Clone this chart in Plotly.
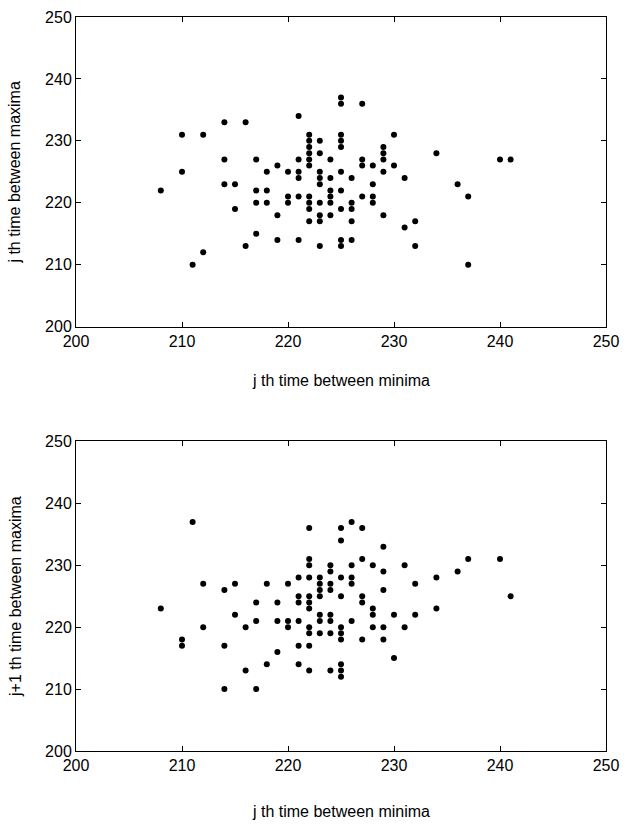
import plotly.graph_objects as go

# Top panel: j th time between minima (x) vs j th time between maxima (y)
top_x = [208,
         210, 210,
         211,
         212, 212,
         214, 214, 214,
         215, 215,
         216, 216,
         217, 217, 217, 217,
         218, 218, 218,
         219, 219, 219,
         220, 220, 220,
         221, 221, 221, 221, 221, 221,
         222, 222, 222, 222, 222, 222, 222, 222, 222, 222,
         223, 223, 223, 223, 223, 223, 223, 223, 223,
         224, 224, 224, 224, 224, 224,
         225, 225, 225, 225, 225, 225, 225, 225, 225, 225,
         226, 226, 226, 226, 226,
         227, 227, 227, 227,
         228, 228, 228, 228,
         229, 229, 229, 229, 229,
         230, 230,
         231, 231,
         232, 232,
         234,
         236,
         237, 237,
         240,
         241]
top_y = [222,
         231, 225,
         210,
         231, 212,
         233, 227, 223,
         223, 219,
         233, 213,
         227, 222, 220, 215,
         225, 222, 220,
         226, 218, 214,
         225, 221, 220,
         234, 227, 225, 224, 221, 214,
         231, 230, 229, 228, 227, 226, 221, 220, 219, 217,
         230, 228, 225, 224, 223, 220, 218, 217, 213,
         227, 224, 222, 221, 220, 218,
         237, 236, 231, 230, 229, 225, 222, 219, 214, 213,
         224, 220, 219, 217, 214,
         236, 227, 226, 221,
         226, 223, 221, 220,
         229, 228, 227, 225, 218,
         231, 226,
         224, 216,
         217, 213,
         228,
         223,
         221, 210,
         227,
         227]

# Bottom panel: j th time between minima (x) vs j+1 th time between maxima (y)
bot_x = [208,
         210, 210,
         211,
         212, 212,
         214, 214, 214,
         215, 215,
         216, 216,
         217, 217, 217,
         218, 218,
         219, 219, 219,
         220, 220, 220,
         221, 221, 221, 221, 221, 221,
         222, 222, 222, 222, 222, 222, 222, 222, 222, 222, 222,
         223, 223, 223, 223, 223, 223, 223,
         224, 224, 224, 224, 224, 224, 224, 224,
         225, 225, 225, 225, 225, 225, 225, 225, 225, 225,
         226, 226, 226, 226, 226,
         227, 227, 227, 227, 227,
         228, 228, 228, 228,
         229, 229, 229, 229, 229,
         230, 230,
         231, 231,
         232, 232,
         234, 234,
         236,
         237,
         240,
         241]
bot_y = [223,
         218, 217,
         237,
         227, 220,
         226, 217, 210,
         227, 222,
         220, 213,
         224, 221, 210,
         227, 214,
         224, 221, 216,
         227, 221, 220,
         228, 225, 224, 221, 217, 214,
         236, 231, 230, 228, 225, 224, 223, 220, 219, 217, 213,
         228, 227, 226, 225, 222, 221, 219,
         230, 229, 227, 226, 222, 221, 219, 213,
         236, 234, 228, 225, 220, 219, 218, 214, 213, 212,
         237, 230, 228, 227, 221,
         236, 231, 225, 224, 218,
         230, 223, 222, 220,
         233, 229, 226, 220, 218,
         222, 215,
         230, 220,
         227, 222,
         228, 223,
         229,
         231,
         231,
         225]

ticks = [200, 210, 220, 230, 240, 250]
x_title = "j th time between minima"
y_title_top = "j th time between maxima"
y_title_bot = "j+1 th time between maxima"

FONT = "Liberation Sans, Arial, Helvetica, sans-serif"
marker = dict(color="black", size=6, line=dict(width=0))

fig = go.Figure()
fig.add_trace(go.Scatter(x=top_x, y=top_y, mode="markers", marker=marker,
                         xaxis="x", yaxis="y", showlegend=False))
fig.add_trace(go.Scatter(x=bot_x, y=bot_y, mode="markers", marker=marker,
                         xaxis="x2", yaxis="y2", showlegend=False))

axis_common = dict(
    range=[200, 250], tickmode="array", tickvals=ticks,
    ticks="inside", ticklen=5, tickwidth=1, tickcolor="black",
    showline=True, linecolor="black", linewidth=1, mirror="ticks",
    showgrid=False, zeroline=False,
    tickfont=dict(family=FONT, size=16, color="black"),
)

top_dom = [0.5782, 1.0]
bot_dom = [0.0, 0.4218]

fig.update_layout(
    width=628, height=825,
    margin=dict(l=76, r=15, t=9, b=74),
    paper_bgcolor="white", plot_bgcolor="white",
    font=dict(family=FONT, size=16, color="black"),
    xaxis=dict(axis_common, domain=[0, 1], anchor="y"),
    yaxis=dict(axis_common, domain=top_dom, anchor="x"),
    xaxis2=dict(axis_common, domain=[0, 1], anchor="y2"),
    yaxis2=dict(axis_common, domain=bot_dom, anchor="x2"),
    annotations=[
        dict(text=x_title, xref="paper", yref="paper", x=0.5, y=0.5054,
             xanchor="center", yanchor="middle", showarrow=False,
             font=dict(family=FONT, size=16, color="black")),
        dict(text=x_title, xref="paper", yref="paper", x=0.5, y=-0.0822,
             xanchor="center", yanchor="middle", showarrow=False,
             font=dict(family=FONT, size=16, color="black")),
        dict(text=y_title_top, xref="paper", yref="paper", x=-0.1155,
             y=(top_dom[0] + top_dom[1]) / 2, xanchor="center", yanchor="middle",
             textangle=-90, showarrow=False,
             font=dict(family=FONT, size=16, color="black")),
        dict(text=y_title_bot, xref="paper", yref="paper", x=-0.1155,
             y=(bot_dom[0] + bot_dom[1]) / 2, xanchor="center", yanchor="middle",
             textangle=-90, showarrow=False,
             font=dict(family=FONT, size=16, color="black")),
    ],
)

fig.write_html("out.html")
